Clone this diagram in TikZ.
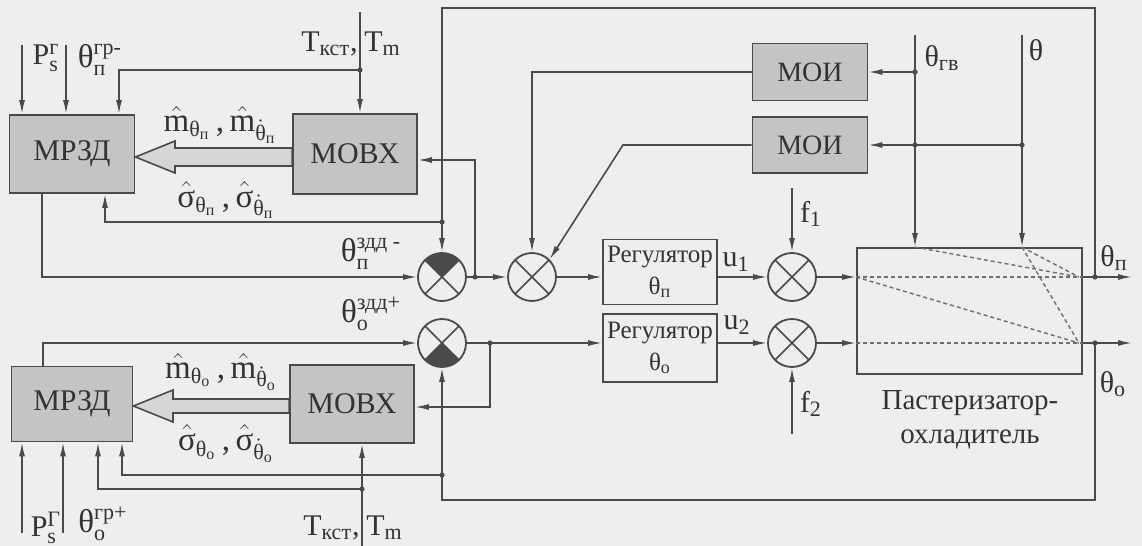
\documentclass[tikz,border=0pt]{standalone}
\usepackage{fontspec}
\setmainfont{Liberation Serif}
\usetikzlibrary{arrows.meta,calc}
\definecolor{bgc}{HTML}{EEEEEC}
\definecolor{boxc}{HTML}{C4C4C2}
\definecolor{linec}{HTML}{4A4A4A}
\definecolor{textc}{HTML}{333333}
\newcommand{\sbs}[1]{\mbox{\fontsize{11}{12}\selectfont #1}}
\newcommand{\sbb}[1]{\mbox{\fontsize{8}{9}\selectfont #1}}
\newcommand{\rsb}[1]{\mbox{\fontsize{9}{10}\selectfont #1}}
\begin{document}
\begin{tikzpicture}[x=0.5pt,y=-0.5pt,
  every node/.style={text=textc},
  lbl/.style={inner sep=0pt,font=\fontsize{15}{17}\selectfont},
  big/.style={inner sep=0pt,font=\fontsize{16.5}{18}\selectfont},
  gbox/.style={draw=linec,line width=0.9pt,fill=boxc,inner sep=0pt,font=\fontsize{15}{16}\selectfont},
  rbox/.style={draw=linec,line width=0.9pt,inner sep=0pt,align=center,font=\fontsize{12.5}{16}\selectfont,minimum width=57pt},
  ln/.style={draw=linec,line width=0.8pt},
  arr/.style={ln,-{Latex[length=7pt,width=3pt]}},
  dsh/.style={draw=linec!80,line width=0.7pt,dash pattern=on 2pt off 1.5pt},
  wide/.style={draw=linec,line width=0.8pt,fill=boxc!70!white},
  dot/.style={circle,fill=linec,inner sep=0pt,minimum size=2.6pt},
  sumjn/.style={circle,draw=linec,line width=0.9pt,minimum size=24pt,inner sep=0pt,
    path picture={\draw[linec,line width=0.8pt] (path picture bounding box.north west) -- (path picture bounding box.south east) (path picture bounding box.north east) -- (path picture bounding box.south west);}},
  sumtop/.style={sumjn,
    path picture={\fill[linec] (path picture bounding box.center) -- (path picture bounding box.north west) -- (path picture bounding box.north east) -- cycle;
      \draw[linec,line width=0.8pt] (path picture bounding box.north west) -- (path picture bounding box.south east) (path picture bounding box.north east) -- (path picture bounding box.south west);}},
  sumbot/.style={sumjn,
    path picture={\fill[linec] (path picture bounding box.center) -- (path picture bounding box.south west) -- (path picture bounding box.south east) -- cycle;
      \draw[linec,line width=0.8pt] (path picture bounding box.north west) -- (path picture bounding box.south east) (path picture bounding box.north east) -- (path picture bounding box.south west);}}
]
\fill[bgc] (0,0) rectangle (1142,546);
\useasboundingbox (0,0) rectangle (1142,546);

% ---------- blocks ----------
\node[gbox,minimum width=62.5pt,minimum height=39pt] (mrzd1) at (72,154) {МРЗД};
\node[gbox,minimum width=62pt,minimum height=40pt] (mobx1) at (355,154) {МОВХ};
\node[gbox,minimum width=60.5pt,minimum height=37.5pt] (mrzd2) at (72,404) {МРЗД};
\node[gbox,minimum width=62pt,minimum height=39pt] (mobx2) at (352,404) {МОВХ};
\node[gbox,minimum width=57.5pt,minimum height=28.5pt,font=\fontsize{14}{15}\selectfont] (moi1) at (810,72) {МОИ};
\node[gbox,minimum width=57.5pt,minimum height=28pt,font=\fontsize{14}{15}\selectfont] (moi2) at (810,145) {МОИ};
\node[rbox,minimum height=32.5pt] (reg1) at (660,272) {Регулятор\\θ$_{\rsb{п}}$};
\node[rbox,minimum height=34pt] (reg2) at (660,348) {Регулятор\\θ$_{\rsb{о}}$};
\node[draw=linec,line width=0.9pt,minimum width=112.5pt,minimum height=63pt,inner sep=0pt] (past) at (969.5,311) {};

\node[sumtop] (S1) at (442,277) {};
\node[sumjn] (S2) at (532,277) {};
\node[sumjn] (S3) at (792,277) {};
\node[sumbot] (S5) at (442,343) {};
\node[sumjn] (S4) at (792,343) {};

% ---------- coordinates ----------
\coordinate (tT) at (360,12);
\coordinate (j1) at (360,70);
\coordinate (inA) at (22,45);
\coordinate (inB) at (66,45);
\coordinate (oP) at (1095,277);
\coordinate (oO) at (1095,343);
\coordinate (outP) at (1132,277);
\coordinate (outO) at (1132,343);
\coordinate (j2) at (442,222);
\coordinate (j3) at (475,277);
\coordinate (bend) at (623,145);
\coordinate (f1s) at (792,188);
\coordinate (f2s) at (792,434);
\coordinate (tg) at (915,35);
\coordinate (tt) at (1022,35);
\coordinate (jg1) at (915,72);
\coordinate (jg2) at (915,145);
\coordinate (jt) at (1022,145);
\coordinate (j5) at (490,343);
\coordinate (j6) at (442,475);
\coordinate (tB) at (362,546);
\coordinate (j7) at (362,489);
\coordinate (inC) at (22,533);
\coordinate (inD) at (63,533);

% ---------- wide arrows ----------
\draw[wide] (mobx1.west |- 0,148) -- (175,148) -- (175,141) -- (mrzd1.east |- 0,157) -- (175,173) -- (175,166) -- (mobx1.west |- 0,166) -- cycle;
\draw[wide] (mobx2.west |- 0,399) -- (173,399) -- (173,390) -- (mrzd2.east |- 0,406) -- (173,422) -- (173,413) -- (mobx2.west |- 0,413) -- cycle;

% ---------- upper connections ----------
\draw[arr] (tT) -- (tT |- mobx1.north);
\draw[arr] (j1) -| (mrzd1.north -| 119,0);
\draw[arr] (inA) -- (mrzd1.north -| inA);
\draw[arr] (inB) -- (mrzd1.north -| inB);
\draw[arr] (mrzd1.south -| 42,0) |- (S1.west);
\draw[arr] (oP) -- (1095,8) -| (S1.north);
\draw[arr] (j2) -| (mrzd1.south -| 105,0);
\draw[arr] (S1) -- (S2);
\draw[arr] (j3) |- (mobx1.east |- 0,160);
\draw[arr] (moi1.west) -| (S2.north);
\draw[arr] (moi2.west) -- (bend) -- (S2.north east);
\draw[arr] (S2) -- (S2 -| reg1.west);
\draw[arr] (reg1.east |- S3) -- (S3);
\draw[arr] (f1s) -- (S3.north);
\draw[arr] (S3) -- (S3 -| past.west);
\draw[arr] (past.east |- S3) -- (outP);
\draw[arr] (tg) -- (tg |- past.north);
\draw[arr] (tt) -- (tt |- past.north);
\draw[arr] (jg1) -- (moi1.east);
\draw[arr] (jt) -- (moi2.east);

% ---------- lower connections ----------
\draw[arr] (mrzd2.north -| 43,0) |- (S5.west);
\draw[arr] (S5) -- (S5 -| reg2.west);
\draw[arr] (j5) |- (mobx2.east |- 0,407);
\draw[arr] (oO) -- (1095,500) -| (S5.south);
\draw[arr] (j6) -| (mrzd2.south -| 122,0);
\draw[arr] (tB) -- (tB |- mobx2.south);
\draw[arr] (j7) -| (mrzd2.south -| 98,0);
\draw[arr] (inC) -- (mrzd2.south -| inC);
\draw[arr] (inD) -- (mrzd2.south -| inD);
\draw[arr] (reg2.east |- S4) -- (S4);
\draw[arr] (f2s) -- (S4.south);
\draw[arr] (S4) -- (S4 -| past.west);
\draw[arr] (past.east |- S4) -- (outO);

% ---------- inner dashed lines ----------
\draw[dsh] (past.west |- S3) -- (past.east |- S3);
\draw[dsh] (past.west |- S4) -- (past.east |- S4);
\draw[dsh] (past.west |- S3) -- ($(past.east |- S4)+(-4,0)$);
\draw[dsh] (tg |- past.north) -- ($(past.east |- S3)+(-4,0)$);
\draw[dsh] (tt |- past.north) -- ($(past.east |- S3)+(-4,0)$);
\draw[dsh] (tt |- past.north) -- ($(past.east |- S4)+(-4,0)$);

% ---------- junction dots ----------
\foreach \p in {j1,j2,j3,jg1,jg2,jt,oP,oO,j5,j6,j7} \node[dot] at (\p) {};

% ---------- labels ----------
\node[lbl] (lPs1) at (46,58) {P$^{\sbs{г}}_{\sbs{s}}$};
\node[big] (lth1) at (100,60) {θ$^{\sbs{гр-}}_{\sbs{п}}$};
\node[lbl,anchor=east] (lTk1) at (358,44) {T$_{\sbs{кст}}$,};
\node[lbl,anchor=west] (lTm1) at (364,44) {T$_{\sbs{m}}$};
\node[big] (lm1) at (220,125) {$\hat{\mbox{m}}_{\sbs{θ$_{\sbb{п}}$}}$\,,\,$\hat{\mbox{m}}_{\sbs{$\dot{\mbox{θ}}_{\sbb{п}}$}}$};
\node[big] (ls1) at (226,200) {$\hat{\mbox{σ}}_{\sbs{θ$_{\sbb{п}}$}}$\,,\,$\hat{\mbox{σ}}_{\sbs{$\dot{\mbox{θ}}_{\sbb{п}}$}}$};
\node[big] (lzp) at (371,254) {θ$^{\sbs{здд -}}_{\sbs{п}}$};
\node[big] (lzo) at (371,314) {θ$^{\sbs{здд+}}_{\sbs{о}}$};
\node[big] (lm2) at (221,372) {$\hat{\mbox{m}}_{\sbs{θ$_{\sbb{о}}$}}$\,,\,$\hat{\mbox{m}}_{\sbs{$\dot{\mbox{θ}}_{\sbb{о}}$}}$};
\node[big] (ls2) at (226,444) {$\hat{\mbox{σ}}_{\sbs{θ$_{\sbb{о}}$}}$\,,\,$\hat{\mbox{σ}}_{\sbs{$\dot{\mbox{θ}}_{\sbb{о}}$}}$};
\node[lbl] (lPs2) at (46,528) {P$^{\sbs{Г}}_{\sbs{s}}$};
\node[big] (lth2) at (103,524) {θ$^{\sbs{гр+}}_{\sbs{о}}$};
\node[lbl,anchor=east] (lTk2) at (360,528) {T$_{\sbs{кст}}$,};
\node[lbl,anchor=west] (lTm2) at (366,528) {T$_{\sbs{m}}$};
\node[lbl] (lu1) at (736,262) {u$_{\sbs{1}}$};
\node[lbl] (lu2) at (737,325) {u$_{\sbs{2}}$};
\node[lbl] (lf1) at (811,214) {f$_{\sbs{1}}$};
\node[lbl] (lf2) at (811,404) {f$_{\sbs{2}}$};
\node[lbl] (lgv) at (942,58) {θ$_{\sbs{гв}}$};
\node[lbl] (lth) at (1036,50) {θ};
\node[lbl] (lthp) at (1114,258) {θ$_{\sbs{п}}$};
\node[lbl] (ltho) at (1113,384) {θ$_{\sbs{о}}$};
\node[lbl,align=center,font=\fontsize{14.5}{17}\selectfont] (lpast) at (970,420) {Пастеризатор-\\охладитель};
\end{tikzpicture}
\end{document}
